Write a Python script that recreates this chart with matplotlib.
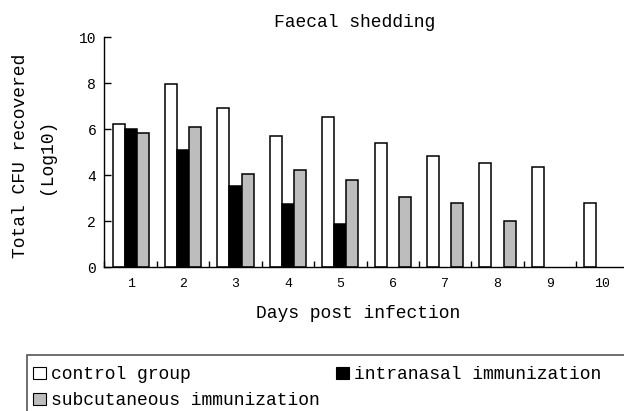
import matplotlib
matplotlib.use("Agg")
import matplotlib.pyplot as plt
import numpy as np
from matplotlib.patches import Patch, Rectangle

days = ["1", "2", "3", "4", "5", "6", "7", "8", "9", "10"]
control = [6.23, 7.96, 6.94, 5.70, 6.53, 5.39, 4.85, 4.55, 4.35, 2.80]
intranasal = [6.00, 5.10, 3.55, 2.74, 1.90, None, None, None, None, None]
subcutaneous = [5.85, 6.10, 4.04, 4.22, 3.78, 3.04, 2.78, 2.01, None, None]
yticks = [0, 2, 4, 6, 8, 10]

series = [
    ("control group", control, "white"),
    ("intranasal immunization", intranasal, "black"),
    ("subcutaneous immunization", subcutaneous, "#bdbdbd"),
]

font = "Liberation Mono"
plt.rcParams["font.family"] = [font, "DejaVu Sans Mono"]

fig = plt.figure(figsize=(6.24, 4.11), dpi=100)
ax = fig.add_axes([104.5 / 624, 1 - 267.3 / 411, 524 / 624, 230 / 411])

w = 0.23
x = np.arange(len(days))
for i, (name, vals, col) in enumerate(series):
    xs = [xi + (i - 1) * w for xi, v in zip(x, vals) if v is not None]
    hs = [v for v in vals if v is not None]
    ax.bar(xs, hs, width=w, color=col, edgecolor="black", linewidth=1.1)

ax.set_xlim(-0.5, len(days) - 0.5)
ax.set_ylim(0, 10)
ax.set_yticks(yticks)
ax.set_yticklabels([str(t) for t in yticks], fontsize=10.5)
ax.set_xticks(x)
ax.set_xticklabels(days, fontsize=9.5)
ax.set_xticks(np.arange(len(days) + 1) - 0.5, minor=True)
ax.tick_params(axis="x", which="major", length=0, pad=8)
ax.tick_params(axis="x", which="minor", direction="in", length=4, width=1)
ax.tick_params(axis="y", direction="in", length=5, width=1, pad=6)
for s in ["top", "right"]:
    ax.spines[s].set_visible(False)
for s in ["left", "bottom"]:
    ax.spines[s].set_linewidth(1.0)

fig.text(0.568, 0.946, "Faecal shedding", ha="center", va="center", fontsize=13)
fig.text(358.5 / 624, 1 - 313 / 411, "Days post infection", ha="center", va="center", fontsize=13)
fig.text(21 / 624, 1 - 156 / 411, "Total CFU recovered", rotation=90, ha="center", va="center", fontsize=13)
fig.text(46 / 624, 1 - 156 / 411, "(Log10)", rotation=90, ha="center", va="center", fontsize=13)

# legend frame extends past the right and bottom edges of the picture
fig.patches.append(Rectangle((26.7 / 624, -0.1), 1.2, 1 - 355 / 411 + 0.1,
                             transform=fig.transFigure, facecolor="none",
                             edgecolor="#555555", linewidth=1.2))

# legend order: column-major fill -> control, subcutaneous in col 1; intranasal in col 2
order = [0, 2, 1]
handles = [Patch(facecolor=series[k][2], edgecolor="black", linewidth=0.8) for k in order]
labels = [series[k][0] for k in order]
leg = fig.legend(handles, labels, loc="upper left", bbox_to_anchor=(26.7 / 624, 1 - 360 / 411),
                 ncol=2, fontsize=13, frameon=False,
                 handlelength=0.7, handleheight=0.7, handletextpad=0.3, columnspacing=0.9,
                 borderpad=0.35, labelspacing=0.5, borderaxespad=0)

fig.savefig("out.png", dpi=100)
